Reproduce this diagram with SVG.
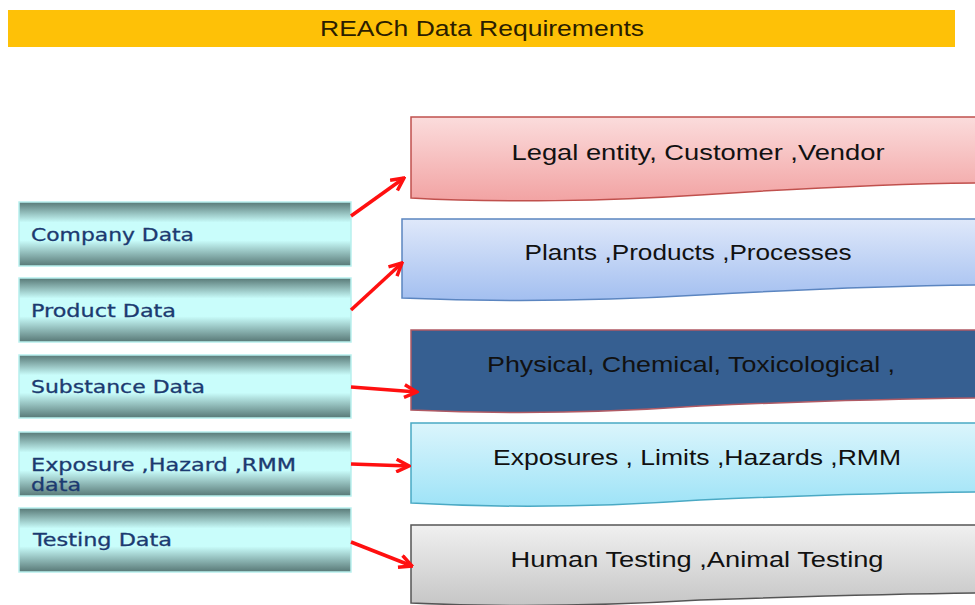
<svg xmlns="http://www.w3.org/2000/svg" width="975" height="605" viewBox="0 0 975 605">
<style>
.lt{font-family:"DejaVu Sans",Verdana,sans-serif;font-size:17px;fill:#1c3a70;stroke:#1c3a70;stroke-width:0.3}
.rt{font-family:"Liberation Sans",Arial,sans-serif;font-size:22px;fill:#111}
.lb{stroke:#b8f0ee;stroke-width:1.5}
.arr{stroke:#ff1010;stroke-width:3.5;fill:none;marker-end:url(#ah)}
</style>
<defs>
<linearGradient id="gl" x1="0" y1="0" x2="0" y2="1">
<stop offset="0" stop-color="#587876"/>
<stop offset="0.32" stop-color="#c9fdfb"/>
<stop offset="0.6" stop-color="#c9fdfb"/>
<stop offset="1" stop-color="#587876"/>
</linearGradient>
<linearGradient id="gp" x1="0" y1="0" x2="0" y2="1">
<stop offset="0" stop-color="#fbdcdc"/><stop offset="1" stop-color="#f2a3a3"/>
</linearGradient>
<linearGradient id="gb" x1="0" y1="0" x2="0" y2="1">
<stop offset="0" stop-color="#dfe8fa"/><stop offset="1" stop-color="#a3bff0"/>
</linearGradient>
<linearGradient id="gc" x1="0" y1="0" x2="0" y2="1">
<stop offset="0" stop-color="#dbf5fc"/><stop offset="1" stop-color="#9ee3f7"/>
</linearGradient>
<linearGradient id="gg" x1="0" y1="0" x2="0" y2="1">
<stop offset="0" stop-color="#f0f0f0"/><stop offset="1" stop-color="#c6c6c6"/>
</linearGradient>
<marker id="ah" viewBox="0 0 10 10" refX="9" refY="5" markerWidth="4.5" markerHeight="4.5" orient="auto" markerUnits="strokeWidth">
<path d="M1,1 L9,5 L1,9" fill="none" stroke="#ff1010" stroke-width="2.2"/>
</marker>
</defs>

<g id="title">
<rect x="8" y="10" width="947" height="37" fill="#fec107"/>
<text x="482" y="36" text-anchor="middle" font-family="Liberation Sans, Arial, sans-serif" font-size="22" fill="#2b1d00" textLength="324" lengthAdjust="spacingAndGlyphs">REACh Data Requirements</text>
</g>

<g id="company">
<rect x="19" y="202" width="332" height="64" fill="url(#gl)" class="lb"/>
<text class="lt" x="31" y="241" textLength="163" lengthAdjust="spacingAndGlyphs">Company Data</text>
</g>
<g id="product">
<rect x="19" y="278" width="332" height="64" fill="url(#gl)" class="lb"/>
<text class="lt" x="31" y="317" textLength="145" lengthAdjust="spacingAndGlyphs">Product Data</text>
</g>
<g id="substance">
<rect x="19" y="355" width="332" height="63" fill="url(#gl)" class="lb"/>
<text class="lt" x="31" y="393" textLength="174" lengthAdjust="spacingAndGlyphs">Substance Data</text>
</g>
<g id="exposure">
<rect x="19" y="432" width="332" height="64" fill="url(#gl)" class="lb"/>
<text class="lt" x="31" y="471" textLength="265" lengthAdjust="spacingAndGlyphs">Exposure ,Hazard ,RMM</text>
<text class="lt" x="31" y="491" textLength="50" lengthAdjust="spacingAndGlyphs">data</text>
</g>
<g id="testing">
<rect x="19" y="508" width="332" height="64" fill="url(#gl)" class="lb"/>
<text class="lt" x="33" y="546" textLength="139" lengthAdjust="spacingAndGlyphs">Testing Data</text>
</g>

<g id="legal">
<path d="M411,117 H976 V183 C880,184 790,189 700,195 C610,201 500,203 411,198 Z" fill="url(#gp)" stroke="#c0504d" stroke-width="1.5"/>
<text class="rt" x="698" y="160" text-anchor="middle" textLength="373" lengthAdjust="spacingAndGlyphs">Legal entity, Customer ,Vendor</text>
</g>
<g id="plants">
<path d="M402,219 H976 V285 C880,286 790,290 700,295 C600,301 500,302 402,298 Z" fill="url(#gb)" stroke="#5b85c0" stroke-width="1.5"/>
<text class="rt" x="688" y="260" text-anchor="middle" textLength="327" lengthAdjust="spacingAndGlyphs">Plants ,Products ,Processes</text>
</g>
<g id="physical">
<path d="M411,330 H976 V398 C880,399 790,402 700,406 C600,413 500,414 411,410 Z" fill="#365f91" stroke="#b05a64" stroke-width="1.5"/>
<text class="rt" x="691" y="372" text-anchor="middle" textLength="408" lengthAdjust="spacingAndGlyphs">Physical, Chemical,  Toxicological ,</text>
</g>
<g id="exposures">
<path d="M411,423 H976 V492 C880,493 790,496 700,500 C600,507 500,508 411,503 Z" fill="url(#gc)" stroke="#4aa9c4" stroke-width="1.5"/>
<text class="rt" x="697" y="465" text-anchor="middle" textLength="408" lengthAdjust="spacingAndGlyphs">Exposures , Limits ,Hazards ,RMM</text>
</g>
<g id="human">
<path d="M411,525 H976 V593 C880,594 790,597 700,600 C600,606 500,607 411,603 Z" fill="url(#gg)" stroke="#555" stroke-width="1.5"/>
<text class="rt" x="697" y="567" text-anchor="middle" textLength="373" lengthAdjust="spacingAndGlyphs">Human Testing ,Animal Testing</text>
</g>

<g id="connectors">
<line class="arr" x1="351" y1="216" x2="404" y2="178"/>
<line class="arr" x1="351" y1="310" x2="402" y2="263"/>
<line class="arr" x1="351" y1="387" x2="417" y2="392"/>
<line class="arr" x1="351" y1="464" x2="409" y2="466"/>
<line class="arr" x1="351" y1="542" x2="412" y2="566"/>
</g>
</svg>
